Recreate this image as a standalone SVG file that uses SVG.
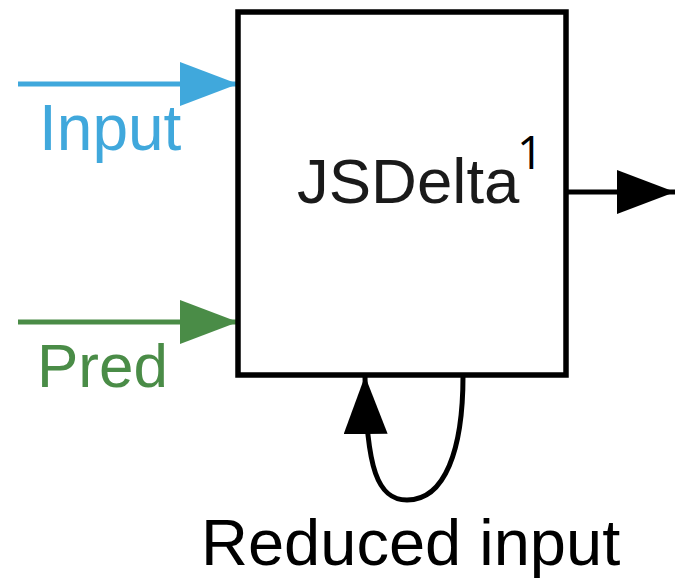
<svg xmlns="http://www.w3.org/2000/svg" width="675" height="579" viewBox="0 0 675 579">
  <style>
    .lbl { font-family: "Liberation Sans", Arial, sans-serif; }
    .edge { fill: none; stroke-width: 5; }
  </style>
  <defs>
    <marker id="headBlue" markerUnits="userSpaceOnUse" markerWidth="60" markerHeight="44" refX="58" refY="22" orient="auto">
      <path d="M0,0 L58,22 L0,44 Z" fill="#40a8dc"/>
    </marker>
    <marker id="headGreen" markerUnits="userSpaceOnUse" markerWidth="60" markerHeight="44" refX="58" refY="22" orient="auto">
      <path d="M0,0 L58,22 L0,44 Z" fill="#4a8c47"/>
    </marker>
    <marker id="headBlack" markerUnits="userSpaceOnUse" markerWidth="60" markerHeight="44" refX="58" refY="22" orient="auto">
      <path d="M0,0 L58,22 L0,44 Z" fill="#000"/>
    </marker>
  </defs>
  <rect width="675" height="579" fill="#fff"/>

  <g id="connectors">
    <line class="edge" x1="18" y1="84" x2="238" y2="84" stroke="#40a8dc" marker-end="url(#headBlue)"/>
    <line class="edge" x1="18" y1="322" x2="238" y2="322" stroke="#4a8c47" marker-end="url(#headGreen)"/>
    <line class="edge" x1="566" y1="192" x2="675" y2="192" stroke="#000" marker-end="url(#headBlack)"/>
    <path class="edge" d="M463,376 C463,450 445,500 407,500 C378,500 366,470 365,376" stroke="#000" marker-end="url(#headBlack)"/>
  </g>

  <g id="input-label">
    <text class="lbl" x="39" y="150" font-size="64" fill="#40a8dc">Input</text>
  </g>
  <g id="pred-label">
    <text class="lbl" x="37" y="387" font-size="62" fill="#4a8c47">Pred</text>
  </g>

  <g id="jsdelta">
    <rect x="238" y="12" width="328" height="363" fill="#fff" stroke="#000" stroke-width="5.5"/>
    <text class="lbl" x="297" y="203" font-size="63.5" fill="#1a1a1a">JSDelta</text>
    <text x="517" y="169" font-family="'Open Sans', 'Noto Sans', sans-serif" font-size="46" fill="#000">1</text>
  </g>

  <g id="reduced-label">
    <text class="lbl" x="201" y="565" font-size="65" fill="#000">Reduced input</text>
  </g>
</svg>
